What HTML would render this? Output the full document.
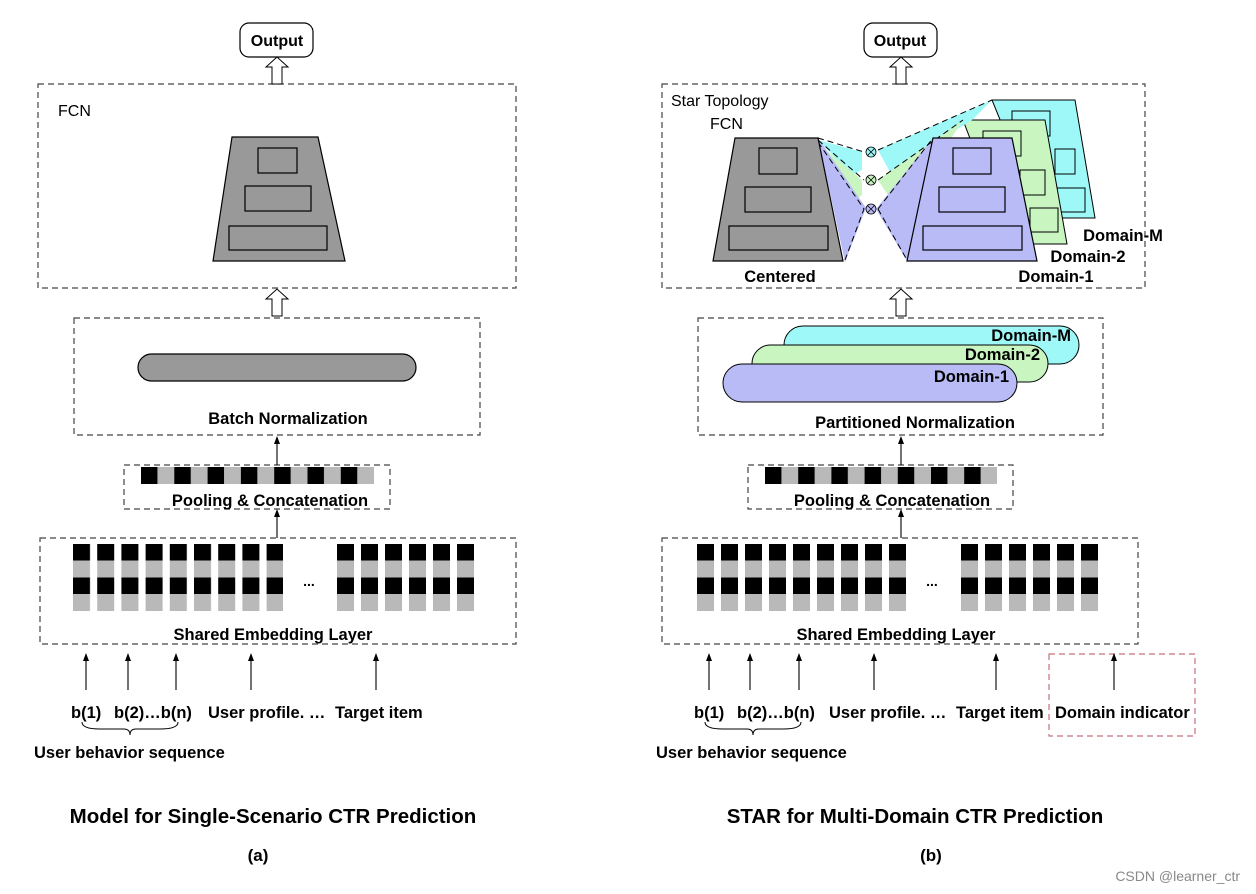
<!DOCTYPE html>
<html><head><meta charset="utf-8"><style>
html,body{margin:0;padding:0;background:#fff;}
svg{display:block;}
text{font-family:"Liberation Sans",Arial,sans-serif;font-weight:bold;fill:#000;}
</style></head><body>
<svg width="1256" height="894" viewBox="0 0 1256 894" xmlns="http://www.w3.org/2000/svg">
<defs>
<pattern id="embL" patternUnits="userSpaceOnUse" x="73" y="544" width="24.2" height="67">
<rect x="0" y="0" width="17" height="16.5" fill="#000"/><rect x="0" y="16.5" width="17" height="17" fill="#b9b9b9"/>
<rect x="0" y="33.5" width="17" height="16.5" fill="#000"/><rect x="0" y="50" width="17" height="17" fill="#b9b9b9"/>
</pattern>
<pattern id="embL2" patternUnits="userSpaceOnUse" x="337" y="544" width="24" height="67">
<rect x="0" y="0" width="17" height="16.5" fill="#000"/><rect x="0" y="16.5" width="17" height="17" fill="#b9b9b9"/>
<rect x="0" y="33.5" width="17" height="16.5" fill="#000"/><rect x="0" y="50" width="17" height="17" fill="#b9b9b9"/>
</pattern>
<pattern id="embR" patternUnits="userSpaceOnUse" x="697" y="544" width="24" height="67">
<rect x="0" y="0" width="17" height="16.5" fill="#000"/><rect x="0" y="16.5" width="17" height="17" fill="#b9b9b9"/>
<rect x="0" y="33.5" width="17" height="16.5" fill="#000"/><rect x="0" y="50" width="17" height="17" fill="#b9b9b9"/>
</pattern>
<pattern id="embR2" patternUnits="userSpaceOnUse" x="961" y="544" width="24" height="67">
<rect x="0" y="0" width="17" height="16.5" fill="#000"/><rect x="0" y="16.5" width="17" height="17" fill="#b9b9b9"/>
<rect x="0" y="33.5" width="17" height="16.5" fill="#000"/><rect x="0" y="50" width="17" height="17" fill="#b9b9b9"/>
</pattern>
<pattern id="poolL" patternUnits="userSpaceOnUse" x="141" y="467" width="33.3" height="20">
<rect x="0" y="0" width="16.6" height="20" fill="#000"/><rect x="16.6" y="0" width="16.7" height="20" fill="#b9b9b9"/>
</pattern>
<pattern id="poolR" patternUnits="userSpaceOnUse" x="765" y="467" width="33.2" height="20">
<rect x="0" y="0" width="16.6" height="20" fill="#000"/><rect x="16.6" y="0" width="16.6" height="20" fill="#b9b9b9"/>
</pattern>
<marker id="ah" markerWidth="8" markerHeight="8" refX="4" refY="4" orient="auto" markerUnits="userSpaceOnUse">
<path d="M0,1 L8,4 L0,7 Z" fill="#000"/></marker>
</defs>

<g fill="none" stroke="#444" stroke-width="1.2" stroke-dasharray="6,4">
<rect x="38" y="84" width="478" height="204"/>
<rect x="74" y="318" width="406" height="117"/>
<rect x="124" y="465" width="266" height="44"/>
<rect x="40" y="538" width="476" height="106"/>
<rect x="662" y="84" width="483" height="204"/>
<rect x="698" y="318" width="405" height="117"/>
<rect x="748" y="465" width="265" height="44"/>
<rect x="662" y="538" width="476" height="106"/>
<rect x="1049" y="654" width="146" height="82" stroke="#c8727f"/>
</g>

<rect x="240" y="23" width="73" height="34" rx="9" fill="#fff" stroke="#000" stroke-width="1.2"/>
<text x="277" y="46" font-size="16" text-anchor="middle">Output</text>
<rect x="864" y="23" width="73" height="34" rx="9" fill="#fff" stroke="#000" stroke-width="1.2"/>
<text x="900" y="46" font-size="16" text-anchor="middle">Output</text>

<g fill="#fff" stroke="#000" stroke-width="1">
<path d="M272,84 L272,67 L266,67 L277,57 L288,67 L282,67 L282,84 Z"/>
<path d="M272,316 L272,299 L266,299 L277,289 L288,299 L282,299 L282,316 Z"/>
<path d="M896,84 L896,67 L890,67 L901,57 L912,67 L906,67 L906,84 Z"/>
<path d="M896,316 L896,299 L890,299 L901,289 L912,299 L906,299 L906,316 Z"/>
</g>

<text x="58" y="116" font-size="16" style="font-weight:normal">FCN</text>
<path d="M232,137 L318,137 L345,261 L213,261 Z" fill="#999" stroke="#000" stroke-width="1.2"/>
<g fill="none" stroke="#000" stroke-width="1.2">
<rect x="258" y="148" width="39" height="25"/><rect x="245" y="186" width="66" height="25"/><rect x="229" y="226" width="98" height="24"/>
</g>

<rect x="138" y="354" width="278" height="27" rx="13.5" fill="#999" stroke="#000" stroke-width="1.2"/>
<text x="288" y="424" font-size="16.5" text-anchor="middle">Batch Normalization</text>

<rect x="141" y="467" width="233" height="17" fill="url(#poolL)"/>
<text x="270" y="506" font-size="16.5" text-anchor="middle">Pooling &amp; Concatenation</text>

<rect x="73" y="544" width="210" height="67" fill="url(#embL)"/>
<rect x="337" y="544" width="137" height="67" fill="url(#embL2)"/>
<text x="309" y="586" font-size="14" text-anchor="middle">...</text>
<text x="273" y="640" font-size="16.5" text-anchor="middle">Shared Embedding Layer</text>

<text x="671" y="106" font-size="16" style="font-weight:normal">Star Topology</text>
<text x="710" y="129" font-size="16" style="font-weight:normal">FCN</text>
<path d="M992,100 L1075,100 L1095,218 L1040,218 Z" fill="#9ef8f8" stroke="#000" stroke-width="1"/>
<g fill="none" stroke="#000" stroke-width="1"><rect x="1012" y="111" width="38" height="25"/><rect x="1055" y="149" width="20" height="25"/><rect x="1055" y="188" width="30" height="24"/></g>
<path d="M963,120 L1045,120 L1067,244 L1010,244 Z" fill="#c8f5c0" stroke="#000" stroke-width="1"/>
<g fill="none" stroke="#000" stroke-width="1"><rect x="983" y="131" width="38" height="25"/><rect x="1020" y="170" width="25" height="25"/><rect x="1030" y="208" width="28" height="24"/></g>
<path d="M818,140 L862,152 L862,170 L852,175 Z" fill="#9ef8f8"/>
<path d="M820,145 L862,180 L862,195 L848,205 Z" fill="#c8f5c0"/>
<path d="M818,138 L866,208 L845,262 Z" fill="#b8bbf5"/>
<path d="M878,150 L992,100 L972,120 L890,172 Z" fill="#9ef8f8"/>
<path d="M878,180 L963,120 L950,140 L890,198 Z" fill="#c8f5c0"/>
<path d="M876,209 L933,138 L907,261 Z" fill="#b8bbf5"/>
<g fill="none" stroke="#000" stroke-width="1" stroke-dasharray="6,4">
<path d="M818,138 L864,152"/><path d="M818,140 L864,180"/><path d="M818,142 L864,209 L845,260"/>
<path d="M878,150 L992,100"/><path d="M878,180 L963,120"/><path d="M878,209 L933,138"/><path d="M878,209 L907,260"/>
</g>
<g stroke="#000" stroke-width="0.8">
<circle cx="871" cy="152" r="5" fill="#9ef8f8"/><path d="M867.5,148.5 L874.5,155.5 M874.5,148.5 L867.5,155.5"/>
<circle cx="871" cy="180" r="5" fill="#c8f5c0"/><path d="M867.5,176.5 L874.5,183.5 M874.5,176.5 L867.5,183.5"/>
<circle cx="871" cy="209" r="5" fill="#b8bbf5"/><path d="M867.5,205.5 L874.5,212.5 M874.5,205.5 L867.5,212.5"/>
</g>
<path d="M735,138 L818,138 L843,261 L713,261 Z" fill="#999" stroke="#000" stroke-width="1.2"/>
<g fill="none" stroke="#000" stroke-width="1.2"><rect x="759" y="148" width="38" height="26"/><rect x="745" y="187" width="66" height="25"/><rect x="729" y="226" width="99" height="24"/></g>
<path d="M933,138 L1012,138 L1037,261 L907,261 Z" fill="#b8bbf5" stroke="#000" stroke-width="1.2"/>
<g fill="none" stroke="#000" stroke-width="1.2"><rect x="953" y="148" width="38" height="26"/><rect x="939" y="187" width="66" height="25"/><rect x="923" y="226" width="99" height="24"/></g>
<text x="780" y="282" font-size="16.5" text-anchor="middle">Centered</text>
<text x="1056" y="282" font-size="16.5" text-anchor="middle">Domain-1</text>
<text x="1088" y="262" font-size="16.5" text-anchor="middle">Domain-2</text>
<text x="1123" y="241" font-size="16.5" text-anchor="middle">Domain-M</text>

<rect x="784" y="326" width="295" height="38" rx="19" fill="#9ef8f8" stroke="#000" stroke-width="1"/>
<rect x="752" y="345" width="296" height="37" rx="18.5" fill="#c8f5c0" stroke="#000" stroke-width="1"/>
<rect x="723" y="364" width="294" height="38" rx="19" fill="#b8bbf5" stroke="#000" stroke-width="1"/>
<text x="1071" y="341" font-size="16.5" text-anchor="end">Domain-M</text>
<text x="1040" y="360" font-size="16.5" text-anchor="end">Domain-2</text>
<text x="1009" y="382" font-size="16.5" text-anchor="end">Domain-1</text>
<text x="915" y="428" font-size="16.5" text-anchor="middle">Partitioned Normalization</text>

<rect x="765" y="467" width="232" height="17" fill="url(#poolR)"/>
<text x="892" y="506" font-size="16.5" text-anchor="middle">Pooling &amp; Concatenation</text>

<rect x="697" y="544" width="209" height="67" fill="url(#embR)"/>
<rect x="961" y="544" width="137" height="67" fill="url(#embR2)"/>
<text x="932" y="586" font-size="14" text-anchor="middle">...</text>
<text x="896" y="640" font-size="16.5" text-anchor="middle">Shared Embedding Layer</text>

<g stroke="#000" stroke-width="1.1" marker-end="url(#ah)">
<line x1="277" y1="465" x2="277" y2="440"/>
<line x1="277" y1="538" x2="277" y2="513"/>
<line x1="901" y1="465" x2="901" y2="440"/>
<line x1="901" y1="538" x2="901" y2="513"/>
<line x1="86" y1="690" x2="86" y2="657"/>
<line x1="128" y1="690" x2="128" y2="657"/>
<line x1="176" y1="690" x2="176" y2="657"/>
<line x1="251" y1="690" x2="251" y2="657"/>
<line x1="376" y1="690" x2="376" y2="657"/>
<line x1="709" y1="690" x2="709" y2="657"/>
<line x1="750" y1="690" x2="750" y2="657"/>
<line x1="799" y1="690" x2="799" y2="657"/>
<line x1="874" y1="690" x2="874" y2="657"/>
<line x1="996" y1="690" x2="996" y2="657"/>
<line x1="1114" y1="690" x2="1114" y2="657"/>
</g>

<g font-size="16.5">
<text x="71" y="718">b(1)</text>
<text x="114" y="718">b(2)…b(n)</text>
<text x="208" y="718">User profile. …</text>
<text x="335" y="718">Target item</text>
<text x="694" y="718">b(1)</text>
<text x="737" y="718">b(2)…b(n)</text>
<text x="829" y="718">User profile. …</text>
<text x="956" y="718">Target item</text>
<text x="1055" y="718">Domain indicator</text>
<text x="34" y="758">User behavior sequence</text>
<text x="656" y="758">User behavior sequence</text>
</g>
<g fill="none" stroke="#000" stroke-width="1">
<path d="M82,722 Q82,729 100,729 L124,729 Q130,729 130,735 Q130,729 136,729 L160,729 Q178,729 178,722"/>
<path d="M705,722 Q705,729 723,729 L747,729 Q753,729 753,735 Q753,729 759,729 L783,729 Q801,729 801,722"/>
</g>

<text x="273" y="823" font-size="20.5" text-anchor="middle">Model for Single-Scenario CTR Prediction</text>
<text x="258" y="861" font-size="17" text-anchor="middle">(a)</text>
<text x="915" y="823" font-size="20.5" text-anchor="middle">STAR for Multi-Domain CTR Prediction</text>
<text x="931" y="861" font-size="17" text-anchor="middle">(b)</text>
<text x="1240" y="881" font-size="14" text-anchor="end" style="font-weight:normal;fill:#888">CSDN @learner_ctr</text>
</svg>
</body></html>
